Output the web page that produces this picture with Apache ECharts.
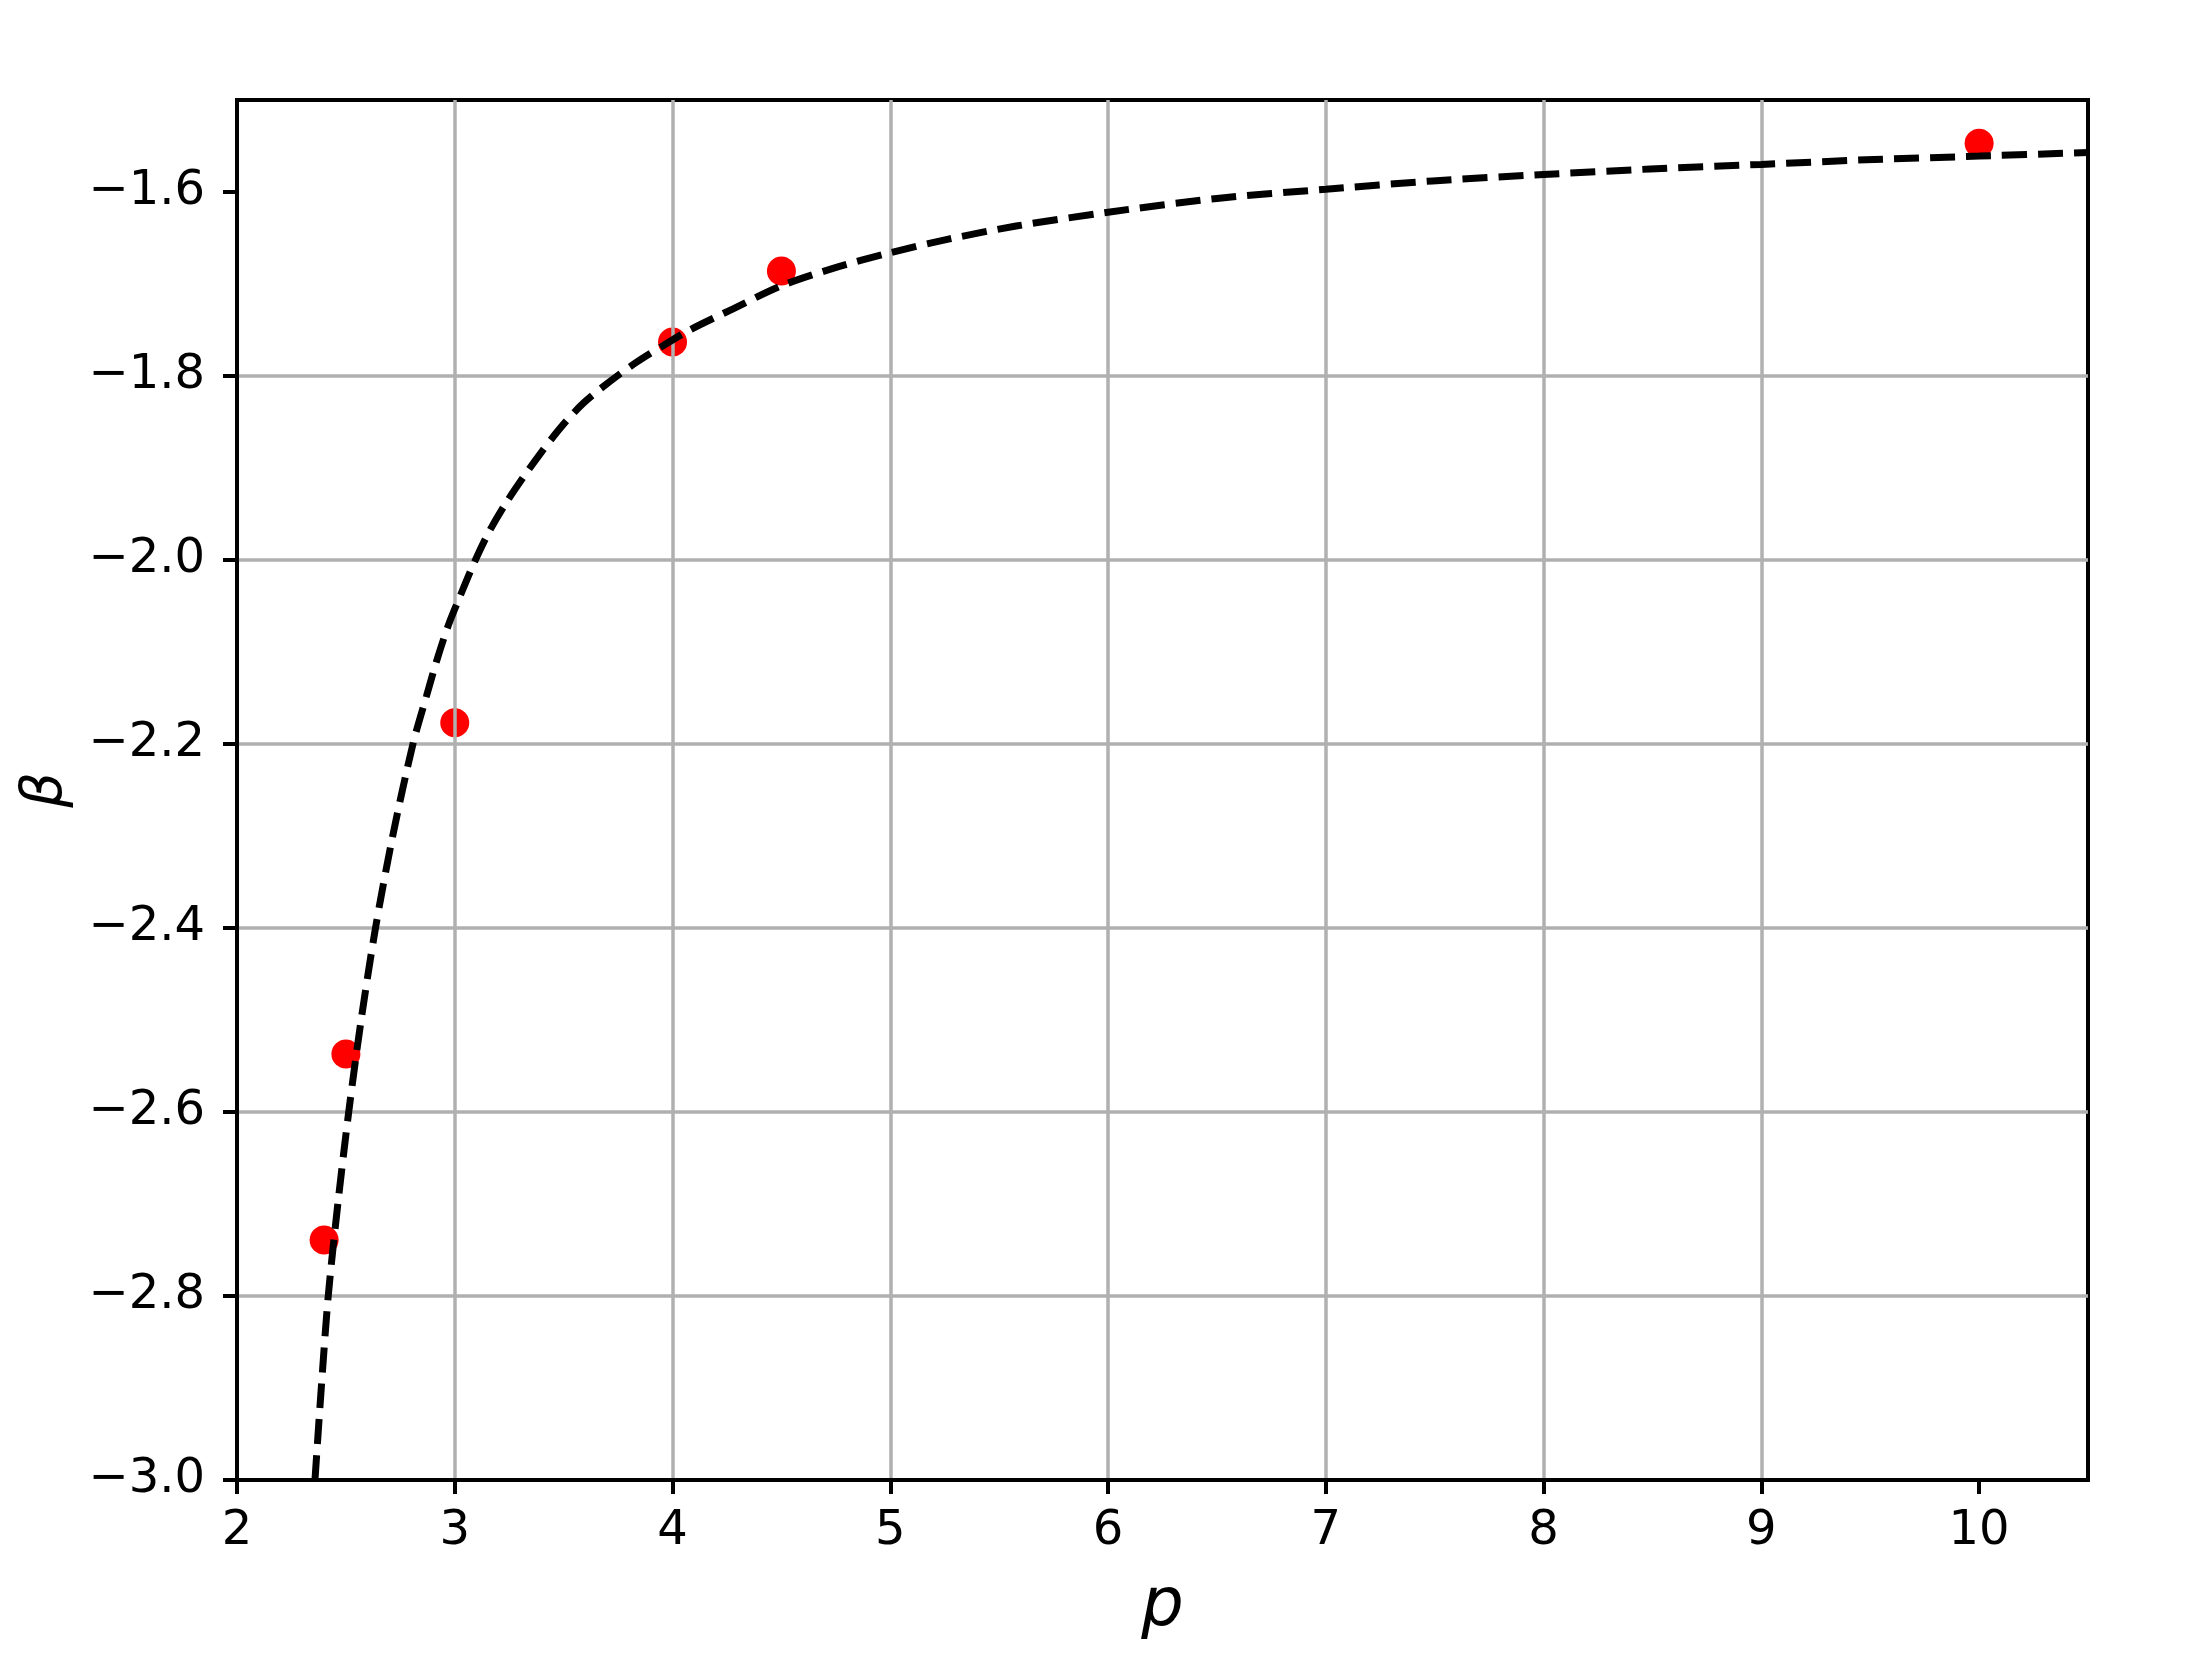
<!DOCTYPE html>
<html>
<head>
<meta charset="utf-8">
<script src="https://cdn.jsdelivr.net/npm/echarts@6/dist/echarts.min.js"></script>
<style>
  html, body { margin: 0; padding: 0; background: #fff; }
  #chart { width: 2206px; height: 1661px; }
</style>
</head>
<body>
<div id="chart"></div>
<script>
// measured points (red dots)
const pointP = [2.4, 2.5, 3.0, 4.0, 4.5, 10.0];
const pointBeta = [-2.739, -2.537, -2.177, -1.763, -1.686, -1.547];

// fitted curve (dashed)
const fitP = [2.358, 2.387, 2.419, 2.463, 2.513, 2.570, 2.636, 2.715, 2.808, 2.870,
  2.919, 2.972, 3.025, 3.087, 3.156, 3.230, 3.309, 3.394, 3.490, 3.593,
  3.712, 3.835, 3.957, 4.087, 4.278, 4.500, 4.737, 5.000, 5.272, 5.578,
  6.000, 6.500, 7.000, 7.490, 8.000, 8.490, 9.000, 9.480, 10.000, 10.500];
const fitBeta = [-3.000, -2.900, -2.800, -2.700, -2.600, -2.500, -2.400, -2.300, -2.200, -2.148,
  -2.108, -2.070, -2.039, -2.004, -1.970, -1.940, -1.912, -1.884, -1.855, -1.829,
  -1.806, -1.785, -1.767, -1.749, -1.727, -1.702, -1.683, -1.666, -1.651, -1.637,
  -1.622, -1.607, -1.597, -1.588, -1.581, -1.575, -1.570, -1.565, -1.561, -1.557];

// tick values
const xTicks = [2, 3, 4, 5, 6, 7, 8, 9, 10];
const yTicks = [-3.0, -2.8, -2.6, -2.4, -2.2, -2.0, -1.8, -1.6];

const font = 'DejaVu Sans';
const gridColor = '#b0b0b0';

const chart = echarts.init(document.getElementById('chart'));

const option = {
  backgroundColor: '#fff',
  animation: false,
  grid: {
    left: 237,
    right: 118,
    top: 100,
    bottom: 181,
    containLabel: false,
    outerBoundsMode: 'none',
    show: true,
    borderColor: '#000',
    borderWidth: 4,
    backgroundColor: 'transparent'
  },
  xAxis: {
    type: 'value',
    min: 2,
    max: 10.5,
    interval: 1,
    z: 3,
    name: 'p',
    nameLocation: 'middle',
    nameGap: 94,
    nameMoveOverlap: false,
    nameTextStyle: { fontFamily: font, fontStyle: 'italic', fontSize: 67, color: '#000' },
    axisLine: { show: true, onZero: false, lineStyle: { color: '#000', width: 4 } },
    axisTick: { show: true, length: 14, customValues: xTicks, lineStyle: { color: '#000', width: 4 } },
    axisLabel: { customValues: xTicks, margin: 28, fontFamily: font, fontSize: 48, color: '#000' },
    splitLine: { show: true, showMinLine: false, showMaxLine: false, lineStyle: { color: gridColor, width: 3.5 } }
  },
  yAxis: {
    type: 'value',
    min: -3,
    max: -1.5,
    interval: 0.2,
    z: 3,
    name: 'β',
    nameLocation: 'middle',
    nameGap: 163,
    nameMoveOverlap: false,
    nameTextStyle: { fontFamily: font, fontStyle: 'italic', fontSize: 56, color: '#000' },
    axisLine: { show: true, onZero: false, lineStyle: { color: '#000', width: 4 } },
    axisTick: { show: true, length: 14, customValues: yTicks, lineStyle: { color: '#000', width: 4 } },
    axisLabel: {
      customValues: yTicks,
      margin: 32,
      fontFamily: font,
      fontSize: 48,
      color: '#000',
      formatter: v => v.toFixed(1).replace('-', '\u2212')
    },
    splitLine: { show: true, showMinLine: false, showMaxLine: false, lineStyle: { color: gridColor, width: 3.5 } }
  },
  series: [
    {
      type: 'scatter',
      z: 2,
      symbolSize: 29,
      itemStyle: { color: '#ff0000', opacity: 1 },
      data: pointP.map((p, i) => [p, pointBeta[i]])
    },
    {
      type: 'line',
      z: 4,
      smooth: 0.3,
      showSymbol: false,
      lineStyle: { color: '#000', width: 7, type: [25, 11] },
      data: fitP.map((p, i) => [p, fitBeta[i]])
    }
  ]
};

chart.setOption(option);
</script>
</body>
</html>
